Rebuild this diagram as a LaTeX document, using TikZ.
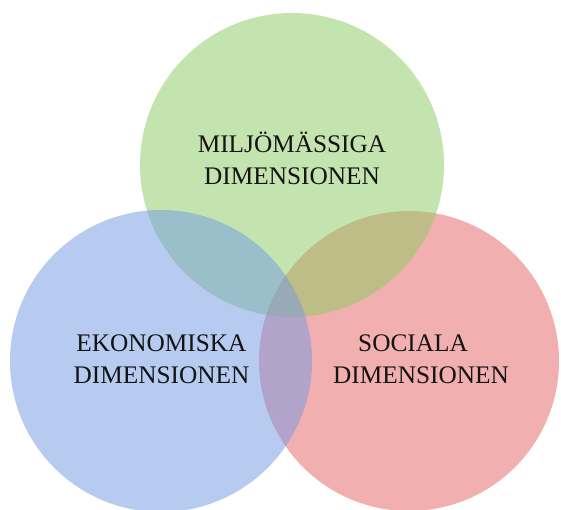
\documentclass[tikz,border=0pt]{standalone}
\usepackage{fontspec}
\setmainfont{Liberation Serif}
\definecolor{cblue}{RGB}{113,153,229}
\definecolor{cgreen}{RGB}{139,203,97}
\definecolor{cred}{RGB}{231,97,97}
\definecolor{ctext}{RGB}{20,20,20}
\begin{document}
\begin{tikzpicture}[x=1pt,y=-1pt,
  disc/.style={fill opacity=0.5},
  label/.style={align=center,text=ctext,inner sep=0pt,
    font=\fontsize{25.3pt}{32pt}\selectfont}]
\useasboundingbox[fill=white] (0,0) rectangle (561,510);
\fill[disc,cred] (409,361) circle[radius=150];
\fill[disc,cgreen] (292,165) circle[radius=152];
\fill[disc,cblue] (161,361) circle[radius=151];
\node[label] (env) at (292,158.5) {MILJÖMÄSSIGA\\DIMENSIONEN};
\node[label] (eco) at (161.5,359.5) {EKONOMISKA\\DIMENSIONEN};
\node[label] (soc) at (421,359.5) {SOCIALA\kern16pt\\DIMENSIONEN};
\end{tikzpicture}
\end{document}
